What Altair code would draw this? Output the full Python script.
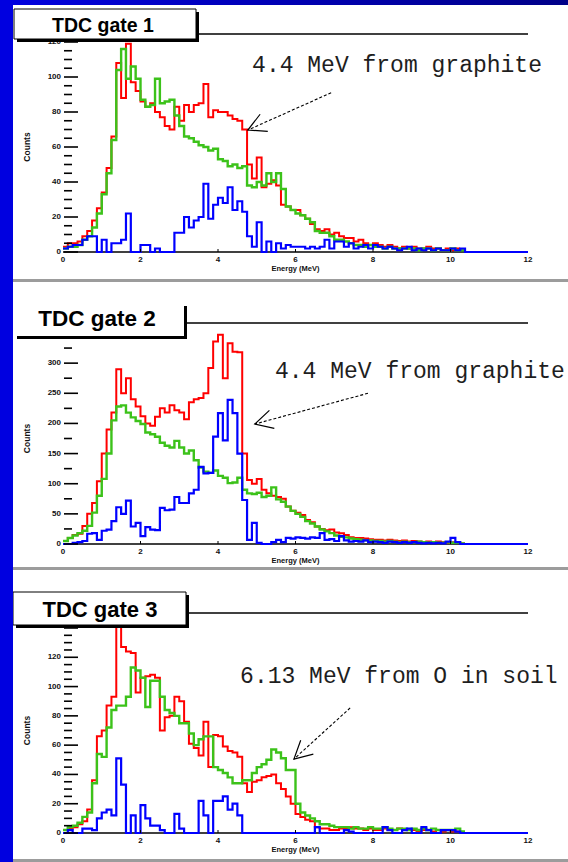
import math
import altair as alt
import pandas as pd

BIN_WIDTH = 0.125        # MeV per histogram bin
E_RANGE = (0, 12)        # MeV
N_BINS = 96              # bins spanning 0 - 12 MeV

# ---------------- TDC gate 1: counts per 0.125 MeV bin from 0 MeV ----------------
gate1_red = [
    3, 5, 5, 6, 9, 12, 18, 25, 34, 48,
    66, 108, 88, 119, 97, 92, 86, 83, 85, 80,
    77, 72, 70, 83, 75, 84, 80, 84, 85, 96,
    77, 81, 80, 80, 78, 76, 75, 70, 50, 42,
    54, 37, 39, 41, 38, 27, 26, 24, 24, 21,
    19, 16, 13, 12, 13, 10, 11, 9, 8, 8,
    6, 7, 5, 4, 5, 4, 3, 4, 3, 2,
    3, 2, 3, 2, 2, 3, 2, 2, 1, 2,
    1, 2,
]
gate1_green = [
    2, 3, 3, 4, 7, 9, 14, 22, 33, 45,
    64, 104, 116, 99, 106, 99, 87, 83, 84, 99,
    85, 86, 87, 78, 72, 66, 65, 63, 61, 60,
    58, 59, 53, 52, 49, 50, 48, 49, 38, 37,
    40, 38, 45, 40, 45, 36, 26, 24, 22, 21,
    19, 17, 12, 11, 11, 9, 7, 7, 6, 5,
    4, 4, 3, 4, 3, 3, 2, 3, 2, 2,
    2, 2, 2, 1, 2, 2, 1, 2, 1, 1,
    2, 1, 1,
]
gate1_blue = [
    2, 3, 4, 4, 7, 9, 9, 0, 7, 0,
    5, 5, 7, 22, 0, 0, 4, 4, 0, 2,
    0, 0, 0, 11, 11, 20, 14, 18, 20, 39,
    19, 27, 31, 28, 37, 24, 29, 23, 9, 3,
    17, 0, 6, 0, 5, 2, 4, 3, 3, 3,
    2, 3, 2, 3, 7, 2, 6, 6, 3, 5,
    2, 3, 4, 2, 4, 3, 2, 3, 2, 1,
    2, 3, 1, 2, 1, 2, 1, 2, 1, 1,
    2, 1, 2,
]

# ---------------- TDC gate 2 ----------------
gate2_red = [
    5, 10, 15, 17, 30, 50, 68, 104, 150, 190,
    218, 290, 250, 275, 240, 228, 212, 200, 196, 211,
    225, 218, 230, 222, 218, 207, 235, 240, 242, 250,
    292, 336, 347, 275, 333, 319, 318, 150, 106, 100,
    108, 90, 84, 80, 78, 75, 62, 55, 52, 48,
    40, 36, 29, 25, 23, 24, 19, 18, 15, 11,
    10, 10, 9, 8, 7, 7, 6, 7, 6, 5,
    6, 4, 5, 4, 3, 4, 3, 4, 3, 2,
    3, 2, 1,
]
gate2_green = [
    5, 10, 14, 18, 22, 30, 52, 80, 108, 150,
    205, 228, 230, 218, 210, 204, 199, 185, 182, 178,
    168, 163, 160, 171, 160, 150, 155, 139, 127, 120,
    118, 122, 113, 110, 101, 102, 110, 90, 84, 83,
    85, 78, 80, 94, 74, 70, 62, 55, 50, 45,
    38, 34, 29, 24, 21, 18, 14, 12, 11, 9,
    8, 7, 6, 6, 5, 5, 4, 5, 4, 3,
    4, 3, 3, 4, 3, 2, 3, 2, 2, 3,
    2, 2, 1,
]
gate2_blue = [
    0, 0, 2, 3, 5, 17, 18, 7, 22, 24,
    38, 61, 50, 72, 29, 35, 13, 28, 24, 23,
    60, 56, 57, 78, 68, 68, 84, 90, 128, 117,
    118, 178, 217, 172, 239, 217, 150, 73, 7, 35,
    2, 0, 0, 3, 7, 3, 10, 9, 11, 10,
    9, 11, 10, 18, 7, 8, 5, 13, 6, 4,
    5, 4, 6, 3, 4, 3, 2, 4, 3, 2,
    3, 2, 3, 2, 1, 2, 1, 2, 1, 4,
    10, 3, 0,
]

# ---------------- TDC gate 3 ----------------
gate3_red = [
    2, 3, 4, 6, 8, 16, 36, 66, 70, 87,
    93, 146, 127, 124, 123, 96, 106, 107, 108, 106,
    70, 79, 80, 93, 90, 76, 61, 58, 53, 76,
    45, 67, 66, 59, 56, 55, 52, 34, 28, 35,
    36, 38, 39, 40, 34, 30, 25, 20, 13, 11,
    9, 8, 4, 3, 3, 2, 2, 3, 3, 4,
    3, 3, 2, 3, 2, 2, 3, 2, 2, 3,
    2, 2, 2, 1, 2, 2, 1, 2, 1, 2,
    1, 1,
]
gate3_green = [
    2, 4, 5, 7, 11, 14, 34, 54, 52, 72,
    84, 87, 87, 93, 113, 111, 106, 86, 104, 104,
    93, 84, 82, 80, 75, 75, 68, 60, 64, 66,
    66, 45, 43, 41, 38, 34, 34, 36, 36, 41,
    45, 47, 50, 57, 55, 51, 43, 43, 20, 14,
    12, 10, 8, 6, 6, 5, 4, 4, 4, 3,
    4, 3, 3, 4, 3, 3, 4, 3, 2, 3,
    3, 2, 3, 2, 3, 2, 3, 2, 2, 2,
    2, 3, 1,
]
gate3_blue = [
    0, 2, 0, 0, 3, 3, 2, 10, 14, 16,
    12, 51, 33, 0, 12, 0, 19, 10, 5, 5,
    2, 0, 0, 13, 3, 0, 0, 0, 22, 12,
    0, 22, 22, 25, 16, 20, 12, 0, 0, 0,
    0, 0, 0, 0, 0, 0, 0, 0, 0, 0,
    0, 0, 4, 0, 0, 0, 0, 0, 2, 1,
    0, 0, 0, 0, 0, 0, 4, 2, 0, 0,
    2, 3, 0, 0, 4, 2, 0, 0, 2, 2,
    2, 1,
]

GATES = [
    (gate1_red, gate1_green, gate1_blue),
    (gate2_red, gate2_green, gate2_blue),
    (gate3_red, gate3_green, gate3_blue),
]
TITLES = ["TDC gate 1", "TDC gate 2", "TDC gate 3"]
NOTES = ["4.4 MeV from graphite", "4.4 MeV from graphite", "6.13 MeV from O in soil"]
note_at = [(4.88, 103.0), (5.47, 275.0), (4.57, 102.5)]      # (MeV, counts)
arrow_from = [(6.92, 91.0), (7.87, 250.0), (7.41, 85.4)]     # (MeV, counts)
arrow_to = [(4.77, 69.7), (4.95, 199.0), (5.96, 50.5)]       # (MeV, counts)

Y_MAX = [120, 350, 140]
Y_LABELS = [list(range(0, 121, 20)), list(range(0, 301, 50)), list(range(0, 121, 20))]
Y_MAJOR = [list(range(0, 121, 20)), list(range(0, 301, 50)), list(range(0, 141, 20))]
Y_MINOR = [[v for v in range(5, 120, 5) if v % 20],
           [v for v in range(25, 350, 50)],
           [v for v in range(5, 140, 5) if v % 20]]
X_TICKS = [0, 2, 4, 6, 8, 10, 12]
X_TITLE = "Energy (MeV)"
Y_TITLE = "Counts"

# ---------------- page geometry (px) ----------------
W, H = 568, 862
X0, X1 = 63, 528
FRAMES = [dict(top=42, base=252), dict(top=333, base=544), dict(top=628, base=833)]
TITLE_BOX = [(14, 9, 196, 39), (14, 303, 184, 336), (13, 592, 186, 625)]
TITLE_TEXT = [(103, 32, 19.5), (97, 326, 22.5), (100, 617, 22)]
TITLE_RULE_Y = [34, 323, 613]
SHADOW = 3

SANS = "Liberation Sans"
MONO = "Liberation Mono"
STYLES = [("#ff0000", 2.0), ("#3cc21a", 2.4), ("#0000ff", 2.2)]
HEAD = "M -0.883 -0.469 L 0 0 L -0.883 0.469"
HEAD_LEN = 20


def step_table(counts, n_bins=None):
    vals = list(counts)
    if n_bins is not None:
        vals = vals + [0] * (n_bins - len(vals))
    edges = [round(i * BIN_WIDTH, 4) for i in range(len(vals) + 1)]
    return pd.DataFrame({"E": edges, "counts": vals + [vals[-1]]})


def head_angle(k):
    f = FRAMES[k]
    sx = (X1 - X0) / (E_RANGE[1] - E_RANGE[0])
    sy = (f["base"] - f["top"]) / Y_MAX[k]
    (e0, c0), (e1, c1) = arrow_from[k], arrow_to[k]
    return math.degrees(math.atan2(-(c1 - c0) * sy, (e1 - e0) * sx)) % 360


def label_style(**kw):
    base = dict(font=SANS, fontSize=8, fontWeight="bold", color="#111")
    base.update(kw)
    return base


def panel(k):
    f = FRAMES[k]
    xs = alt.Scale(domain=list(E_RANGE), range=[X0, X1], nice=False, zero=False)
    ys = alt.Scale(domain=[0, Y_MAX[k]], range=[f["base"], f["top"]], nice=False, zero=False)

    def X(field):
        return alt.X(field, scale=xs, axis=None)

    def Y(field):
        return alt.Y(field, scale=ys, axis=None)

    layers = []
    # energy axis line
    layers.append(
        alt.Chart(pd.DataFrame({"e0": [E_RANGE[0]], "e1": [E_RANGE[1]], "c": [0]}))
        .mark_rule(color="black", strokeWidth=1.5)
        .encode(x=X("e0:Q"), x2="e1:Q", y=Y("c:Q"))
    )

    # step histograms
    for j, (counts, (color, width)) in enumerate(zip(GATES[k], STYLES)):
        df = step_table(counts, N_BINS if j == 2 else None)
        layers.append(
            alt.Chart(df).mark_line(interpolate="step-after", color=color,
                                    strokeWidth=width, clip=False)
            .encode(x=X("E:Q"), y=Y("counts:Q"))
        )

    # inward ROOT-style tick marks on the count axis
    for vals, length in ((Y_MAJOR[k], 14), (Y_MINOR[k], 8)):
        layers.append(
            alt.Chart(pd.DataFrame({"v": vals})).mark_rule(color="black", strokeWidth=1.6)
            .encode(y=Y("v:Q"), x=alt.value(X0 + 1), x2=alt.value(X0 + 1 + length))
        )
    layers.append(
        alt.Chart(pd.DataFrame({"v": X_TICKS[1:-1]})).mark_rule(color="black", strokeWidth=1)
        .encode(x=X("v:Q"), y=alt.value(f["base"] - 3), y2=alt.value(f["base"]))
    )

    # tick labels and axis titles
    layers.append(
        alt.Chart(pd.DataFrame({"v": Y_LABELS[k], "t": [str(v) for v in Y_LABELS[k]]}))
        .mark_text(**label_style(align="right", baseline="middle"))
        .encode(y=Y("v:Q"), x=alt.value(X0 - 2), text="t:N")
    )
    layers.append(
        alt.Chart(pd.DataFrame({"v": X_TICKS, "t": [str(v) for v in X_TICKS]}))
        .mark_text(**label_style(align="center", baseline="middle"))
        .encode(x=X("v:Q"), y=alt.value(f["base"] + 8), text="t:N")
    )
    layers.append(
        alt.Chart(pd.DataFrame({"v": [sum(E_RANGE) / 2], "t": [X_TITLE]}))
        .mark_text(**label_style(align="center", baseline="middle", fontSize=7.5))
        .encode(x=X("v:Q"), y=alt.value(f["base"] + 17), text="t:N")
    )
    layers.append(
        alt.Chart(pd.DataFrame({"v": [Y_MAX[k] / 2], "t": [Y_TITLE]}))
        .mark_text(**label_style(align="center", baseline="middle", fontSize=8.5, angle=270))
        .encode(y=Y("v:Q"), x=alt.value(27), text="t:N")
    )

    # annotation text and arrow
    (ne, nc) = note_at[k]
    layers.append(
        alt.Chart(pd.DataFrame({"E": [ne], "c": [nc], "label": [NOTES[k]]}))
        .mark_text(align="left", baseline="alphabetic", font=MONO, fontSize=23, color="#1e1e1e")
        .encode(x=X("E:Q"), y=Y("c:Q"), text="label:N")
    )
    arrow = pd.DataFrame({
        "E0": [arrow_from[k][0]], "c0": [arrow_from[k][1]],
        "E1": [arrow_to[k][0]], "c1": [arrow_to[k][1]],
    })
    layers.append(
        alt.Chart(arrow).mark_rule(color="black", strokeWidth=1.1, strokeDash=[3, 2])
        .encode(x=X("E0:Q"), x2="E1:Q", y=Y("c0:Q"), y2="c1:Q")
    )
    layers.append(
        alt.Chart(arrow).mark_point(
            shape=HEAD, size=(2 * HEAD_LEN) ** 2, filled=False, color="black",
            strokeWidth=1.2, opacity=1, angle=head_angle(k),
        ).encode(x=X("E1:Q"), y=Y("c1:Q"))
    )
    return alt.layer(*layers)


def px_rect(df, **mark):
    return alt.Chart(df).mark_rect(**mark).encode(
        x=alt.X("x1:Q", scale=None, axis=None), x2="x2:Q",
        y=alt.Y("y1:Q", scale=None, axis=None), y2="y2:Q",
    )


def rects(rows):
    return pd.DataFrame(rows, columns=["x1", "y1", "x2", "y2"])


# gate label boxes with drop shadow, plus the rule running to the right
shadows = rects([(l + SHADOW, t + SHADOW, r + SHADOW, b + SHADOW) for (l, t, r, b) in TITLE_BOX])
framed = rects([TITLE_BOX[0], TITLE_BOX[2]])
plain = rects([TITLE_BOX[1]])
title_rules = pd.DataFrame({
    "x1": [b[2] + SHADOW for b in TITLE_BOX], "x2": [X1] * 3, "y": TITLE_RULE_Y,
})
title_text = pd.DataFrame({
    "x": [p[0] for p in TITLE_TEXT], "y": [p[1] for p in TITLE_TEXT], "label": TITLES,
})

decor = [
    px_rect(shadows, fill="black"),
    px_rect(framed, fill="white", stroke="black", strokeWidth=1),
    px_rect(plain, fill="white"),
    alt.Chart(title_rules).mark_rule(color="black", strokeWidth=1.3).encode(
        x=alt.X("x1:Q", scale=None, axis=None), x2="x2:Q",
        y=alt.Y("y:Q", scale=None, axis=None),
    ),
]
for i in range(3):
    decor.append(
        alt.Chart(title_text.iloc[[i]]).mark_text(
            align="center", baseline="alphabetic", font=SANS,
            fontSize=TITLE_TEXT[i][2], fontWeight="bold", color="black",
        ).encode(
            x=alt.X("x:Q", scale=None, axis=None),
            y=alt.Y("y:Q", scale=None, axis=None),
            text="label:N",
        )
    )

# page frame: gray separators and the blue slide border
decor += [
    px_rect(rects([(13, 279, W, 282), (13, 567, W, 570), (13, 859, W, 862)]), fill="#9c9c9c"),
    px_rect(rects([(0, 0, W, 5)]), fill={
        "gradient": "linear", "x1": 0, "y1": 0, "x2": 1, "y2": 0,
        "stops": [{"offset": 0, "color": "#0000e0"}, {"offset": 1, "color": "#000088"}],
    }),
    px_rect(rects([(0, 0, 13, H)]), fill="#0000e0"),
]

chart = alt.layer(*[panel(k) for k in range(3)], *decor).resolve_scale(
    x="independent", y="independent"
).properties(
    width=W, height=H, padding=0, background="white",
    autosize=alt.AutoSizeParams(type="none"),
).configure_view(strokeWidth=0)

chart.save("out.html", embed_options={"renderer": "svg", "actions": False})
